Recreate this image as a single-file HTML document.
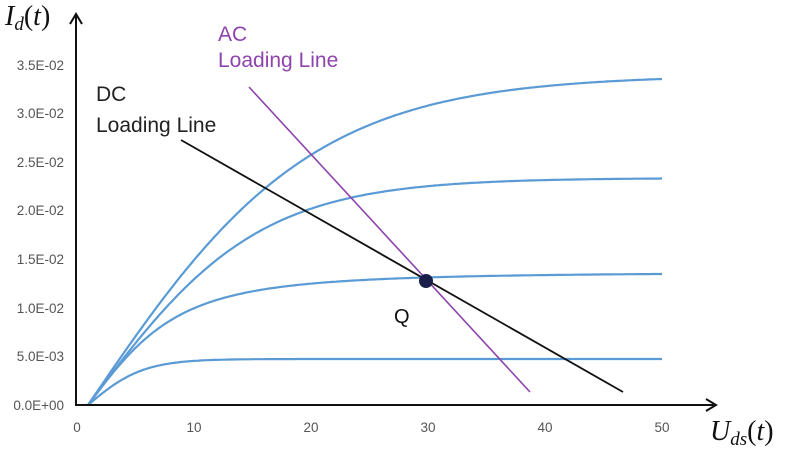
<!DOCTYPE html><html><head><style>body{margin:0;background:#fff}svg{display:block}</style></head><body>
<svg id="s" width="785" height="450" xmlns="http://www.w3.org/2000/svg" font-family="Liberation Sans, DejaVu Sans, sans-serif">
<g font-size="13.5" fill="#555" text-anchor="end">
<text x="64" y="410">0.0E+00</text><text x="64" y="361">5.0E-03</text><text x="64" y="313">1.0E-02</text><text x="64" y="264">1.5E-02</text><text x="64" y="215">2.0E-02</text><text x="64" y="167">2.5E-02</text><text x="64" y="118">3.0E-02</text><text x="64" y="70">3.5E-02</text>
</g>
<g font-size="13.5" fill="#555" text-anchor="middle">
<text x="77" y="432">0</text><text x="194" y="432">10</text><text x="311" y="432">20</text><text x="428" y="432">30</text><text x="545" y="432">40</text><text x="662" y="432">50</text>
</g>
<g id="c" fill="none" stroke="#5b9bd5" stroke-width="2.2"></g>
<line x1="181" y1="140" x2="623" y2="392" stroke="#111" stroke-width="1.8"/>
<line x1="249" y1="87" x2="530" y2="392" stroke="#8e44ad" stroke-width="1.6"/>
<circle cx="426" cy="281" r="7" fill="#1a1f4a"/>
<path d="M76 406V15M70 24L76 14L82 24M76 405H716M706 399L716 405L706 411" fill="none" stroke="#111" stroke-width="2"/>
<text x="394" y="323" font-size="20" fill="#111">Q</text>
<text x="96" y="101" font-size="21" fill="#222">DC</text>
<text x="96" y="132" font-size="21" fill="#222">Loading Line</text>
<text x="218" y="41" font-size="21" fill="#8e44ad">AC</text>
<text x="218" y="67" font-size="21" fill="#8e44ad">Loading Line</text>
<text x="5" y="25" font-size="28" font-family="Liberation Serif, serif" font-style="italic" fill="#111">I<tspan font-size="19" dy="5">d</tspan><tspan dy="-5" font-style="normal">(</tspan>t<tspan font-style="normal">)</tspan></text>
<text x="710" y="440" font-size="28" font-family="Liberation Serif, serif" font-style="italic" fill="#111">U<tspan font-size="19" dy="5">ds</tspan><tspan dy="-5" font-style="normal">(</tspan>t<tspan font-style="normal">)</tspan></text>
</svg>
<script>
var g=document.getElementById('c');
function th(u){return Math.tanh(u);} function sq(u){return u/Math.sqrt(1+u*u);}
[[46,55,th],[133,100,sq],[227,170,th],[330,225,th]].forEach(function(p){var d='M88 405';for(var x=90;x<=662;x+=2){d+='L'+x+' '+(405-p[0]*p[2]((x-88)/p[1])).toFixed(1);}var e=document.createElementNS('http://www.w3.org/2000/svg','path');e.setAttribute('d',d);g.appendChild(e);});
</script>
</body></html>
